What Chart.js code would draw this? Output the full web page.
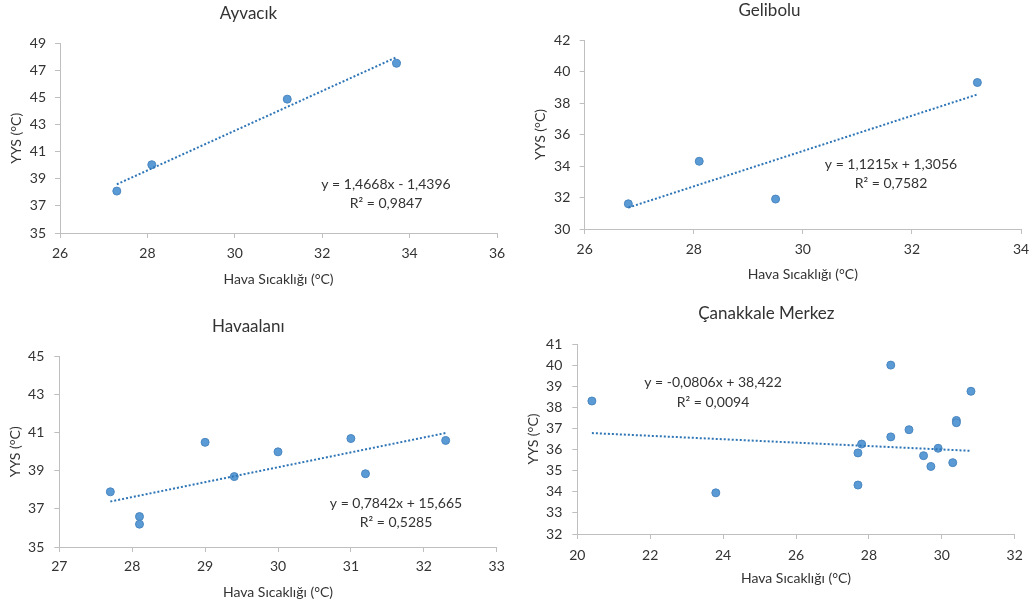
<!DOCTYPE html>
<html lang="tr">
<head>
  <meta charset="UTF-8">
  <title>YYS - Hava Sıcaklığı</title>
  <script src="https://cdn.jsdelivr.net/npm/chart.js"></script>
  <style>
    body { margin: 0; background: #fff; width: 1036px; height: 608px; position: relative; overflow: hidden; }
    .box { position: absolute; }
  </style>
</head>
<body>
  <div class="box" style="left:0;top:0;width:518px;height:300px"><canvas id="c1"></canvas></div>
  <div class="box" style="left:518px;top:0;width:518px;height:300px"><canvas id="c2"></canvas></div>
  <div class="box" style="left:0;top:300px;width:518px;height:308px"><canvas id="c3"></canvas></div>
  <div class="box" style="left:518px;top:300px;width:518px;height:308px"><canvas id="c4"></canvas></div>

  <script>
    // Ayvacık
    const ayvacikX = [27.3, 28.1, 31.2, 33.7];
    const ayvacikY = [38.1, 40.05, 44.9, 47.55];
    const ayvacikTrend = [[27.3, 38.6], [33.7, 48.0]];
    const ayvacikXTicks = [26, 28, 30, 32, 34, 36];
    const ayvacikYTicks = [35, 37, 39, 41, 43, 45, 47, 49];

    // Gelibolu
    const geliboluX = [26.8, 28.1, 29.5, 33.2];
    const geliboluY = [31.6, 34.3, 31.9, 39.3];
    const geliboluTrend = [[26.8, 31.36], [33.2, 38.54]];
    const geliboluXTicks = [26, 28, 30, 32, 34];
    const geliboluYTicks = [30, 32, 34, 36, 38, 40, 42];

    // Havaalanı
    const havaalaniX = [27.7, 28.1, 28.1, 29.0, 29.4, 30.0, 31.0, 31.2, 32.3];
    const havaalaniY = [37.9, 36.6, 36.2, 40.5, 38.7, 40.0, 40.7, 38.85, 40.6];
    const havaalaniTrend = [[27.7, 37.39], [32.3, 40.99]];
    const havaalaniXTicks = [27, 28, 29, 30, 31, 32, 33];
    const havaalaniYTicks = [35, 37, 39, 41, 43, 45];

    // Çanakkale Merkez
    const merkezX = [20.4, 23.8, 27.7, 27.7, 27.8, 28.6, 28.6, 29.1, 29.5, 29.7, 29.9, 30.3, 30.4, 30.4, 30.8];
    const merkezY = [38.3, 33.95, 34.32, 35.84, 36.26, 40.0, 36.6, 36.94, 35.71, 35.2, 36.06, 35.38, 37.38, 37.27, 38.76];
    const merkezTrend = [[20.4, 36.78], [30.8, 35.94]];
    const merkezXTicks = [20, 22, 24, 26, 28, 30, 32];
    const merkezYTicks = [32, 33, 34, 35, 36, 37, 38, 39, 40, 41];

    const xTitle = "Hava Sıcaklığı (°C)";
    const yTitle = "YYS (°C)";
    const FONT = "Lato, 'Open Sans', sans-serif";
    const TEXT = "#333333";
    const AXIS = "#bfbfbf";

    // draws the equation / R² labels at given pixel spots in the canvas
    const eqPlugin = {
      id: "eq",
      afterDatasetsDraw(chart, args, opts) {
        const ctx = chart.ctx;
        ctx.save();
        ctx.fillStyle = TEXT;
        ctx.font = "14px " + FONT;
        ctx.textAlign = "center";
        ctx.textBaseline = "middle";
        opts.lines.forEach(l => ctx.fillText(l.text, l.x, l.y));
        ctx.restore();
      }
    };

    function makeChart(id, c) {
      const pts = c.x.map((v, i) => ({ x: v, y: c.y[i] }));
      const trend = c.trend.map(p => ({ x: p[0], y: p[1] }));
      return new Chart(document.getElementById(id), {
        type: "scatter",
        data: {
          datasets: [
            {
              type: "line",
              data: trend,
              borderColor: "#2e75b6",
              borderWidth: 2,
              borderDash: [2, 2],
              pointRadius: 0,
              fill: false
            },
            {
              data: pts,
              backgroundColor: "#5b9bd5",
              borderColor: "#4a86c0",
              borderWidth: 1,
              pointRadius: 4
            }
          ]
        },
        options: {
          responsive: true,
          maintainAspectRatio: false,
          animation: false,
          layout: { padding: { left: 0, right: c.right, top: 0, bottom: 0 } },
          plugins: {
            legend: { display: false },
            tooltip: { enabled: false },
            title: {
              display: true,
              text: c.title,
              color: TEXT,
              font: { family: FONT, size: 17, weight: "normal" },
              padding: { top: c.titleTop, bottom: c.titleBottom }
            },
            eq: { lines: c.eq }
          },
          scales: {
            x: {
              type: "linear",
              min: c.xTicks[0],
              max: c.xTicks[c.xTicks.length - 1],
              afterBuildTicks: s => { s.ticks = c.xTicks.map(v => ({ value: v })); },
              afterFit: s => { s.height = c.xHeight; },
              grid: { drawOnChartArea: false, drawTicks: true, tickLength: 5, color: AXIS },
              border: { color: AXIS, width: 1 },
              ticks: { color: TEXT, font: { family: FONT, size: 14 }, padding: c.xPad, maxRotation: 0 },
              title: {
                display: true, text: xTitle, color: TEXT,
                font: { family: FONT, size: 14 },
                padding: { top: 0, bottom: c.xTitlePad - 0.6 }
              }
            },
            y: {
              type: "linear",
              min: c.yTicks[0],
              max: c.yTicks[c.yTicks.length - 1],
              afterBuildTicks: s => { s.ticks = c.yTicks.map(v => ({ value: v })); },
              afterFit: s => { s.width = c.yWidth; },
              grid: { drawOnChartArea: false, drawTicks: true, tickLength: 5, color: AXIS },
              border: { color: AXIS, width: 1 },
              ticks: { color: TEXT, font: { family: FONT, size: 14 }, padding: c.yPad },
              title: {
                display: true, text: yTitle, color: TEXT,
                font: { family: FONT, size: 14 },
                padding: { top: c.yTitlePad - 0.6, bottom: 0 }
              }
            }
          }
        },
        plugins: [eqPlugin]
      });
    }

    makeChart("c1", {
      title: "Ayvacık", x: ayvacikX, y: ayvacikY, trend: ayvacikTrend,
      xTicks: ayvacikXTicks, yTicks: ayvacikYTicks,
      right: 21, titleTop: 3.2, titleBottom: 20.1, xHeight: 67, xPad: 6.6, xTitlePad: 13.2,
      yWidth: 60, yPad: 9, yTitlePad: 8.2,
      eq: [{ text: "y = 1,4668x - 1,4396", x: 386, y: 184 }, { text: "R² = 0,9847", x: 386, y: 203 }]
    });

    makeChart("c2", {
      title: "Gelibolu", x: geliboluX, y: geliboluY, trend: geliboluTrend,
      xTicks: geliboluXTicks, yTicks: geliboluYTicks,
      right: 15, titleTop: 0, titleBottom: 19.6, xHeight: 71, xPad: 6.6, xTitlePad: 18.2,
      yWidth: 66.7, yPad: 9.4, yTitlePad: 14.5,
      eq: [{ text: "y = 1,1215x + 1,3056", x: 373, y: 164 }, { text: "R² = 0,7582", x: 373, y: 183 }]
    });

    makeChart("c3", {
      title: "Havaalanı", x: havaalaniX, y: havaalaniY, trend: havaalaniTrend,
      xTicks: havaalaniXTicks, yTicks: havaalaniYTicks,
      right: 21.3, titleTop: 16.5, titleBottom: 19.8, xHeight: 61, xPad: 6.3, xTitlePad: 8.2,
      yWidth: 59.3, yPad: 10, yTitlePad: 7.2,
      eq: [{ text: "y = 0,7842x + 15,665", x: 396, y: 203 }, { text: "R² = 0,5285", x: 396, y: 222 }]
    });

    makeChart("c4", {
      title: "Çanakkale Merkez", x: merkezX, y: merkezY, trend: merkezTrend,
      xTicks: merkezXTicks, yTicks: merkezYTicks,
      right: 21.3, titleTop: 3.8, titleBottom: 19.8, xHeight: 74, xPad: 7.6, xTitlePad: 21.5,
      yWidth: 59.3, yPad: 10, yTitlePad: 7.2,
      eq: [{ text: "y = -0,0806x + 38,422", x: 195, y: 82 }, { text: "R² = 0,0094", x: 195, y: 102 }]
    });
  </script>
</body>
</html>
